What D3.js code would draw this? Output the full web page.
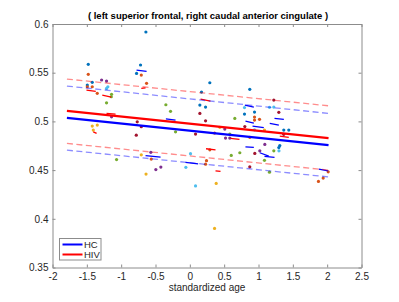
<!DOCTYPE html>
<html>
  <head>
    <meta charset="utf-8">
    <title>left superior frontal, right caudal anterior cingulate</title>
    <style>
      body { margin: 0; background: #fff; }
      text { font-family: "Liberation Sans", Arial, sans-serif; }
    </style>
  </head>
  <body>
    <script src="https://cdn.jsdelivr.net/npm/d3@7"></script>
    <script type="text/javascript">
      // subject points: age, value, colour index (MATLAB colour order)
      var pointAge = [
        -1.479, -1.479, -1.493, -1.493, -1.421, -1.421, -1.348, -1.285, -1.213, -1.194,
        -1.213, -1.140, -1.144, -1.213, -1.140, -1.421, -1.348, -1.406, -0.640, -0.718,
        -0.776, -0.707, -0.630, -0.766, -0.707, -0.780, -0.349, -0.281, -0.208, 0.146,
        0.146, 0.010, -0.568, -0.707, -1.067, 0.291, 0.873, 0.170, 0.229, 1.223,
        1.296, 1.160, 1.223, 0.796, 0.796, 0.942, 0.942, 0.942, 1.015, 0.229,
        0.655, 0.801, 0.509, 0.942, 1.087, 0.437, 0.360, 0.520, 0.582, 0.582,
        0.873, 1.368, 1.368, 1.441, 1.092, 1.019, 1.310, 1.296, 1.298, 1.223,
        0.946, 0.728, 0.603, 1.087, 1.160, 0.873, 2.015, 1.942, 1.873, 0.243,
        0.229, 0.384, 0.360, 0.291, 0.083, -0.562, -0.638, -0.495, -0.422, -0.058,
        0.083
      ];
      var pointValue = [
        0.5586, 0.5483, 0.5373, 0.5356, 0.5401, 0.5356, 0.5288, 0.5425, 0.5414, 0.5356,
        0.5339, 0.5278, 0.5253, 0.5191, 0.5047, 0.4952, 0.4962, 0.4911, 0.5918, 0.5579,
        0.5493, 0.5476, 0.5391, 0.4996, 0.4945, 0.4859, 0.5171, 0.5103, 0.4893, 0.5168,
        0.5082, 0.4669, 0.4682, 0.4657, 0.4608, 0.5397, 0.5329, 0.5301, 0.5147, 0.5219,
        0.5093, 0.5144, 0.5147, 0.5142, 0.5075, 0.5096, 0.5044, 0.5014, 0.5021, 0.5006,
        0.5031, 0.4947, 0.4921, 0.4914, 0.4911, 0.4939, 0.4880, 0.4829, 0.4829, 0.4870,
        0.4836, 0.4867, 0.4911, 0.4911, 0.4764, 0.4698, 0.4752, 0.4731, 0.4698, 0.4698,
        0.4671, 0.4678, 0.4651, 0.4600, 0.4479, 0.4534, 0.4482, 0.4418, 0.4384, 0.4597,
        0.4561, 0.4363, 0.3901, 0.4708, 0.4870, 0.4613, 0.4459, 0.4505, 0.4531, 0.4528,
        0.4338
      ];
      var pointColor = [
        0, 1, 0, 1, 0, 1, 1, 3, 3, 5,
        5, 4, 4, 4, 3, 2, 2, 2, 0, 0,
        0, 1, 1, 6, 6, 6, 4, 4, 4, 0,
        6, 5, 3, 2, 4, 0, 0, 0, 0, 6,
        6, 5, 5, 5, 0, 0, 1, 1, 1, 6,
        4, 6, 3, 5, 2, 2, 1, 3, 3, 4,
        1, 6, 0, 0, 3, 3, 0, 0, 5, 4,
        6, 4, 4, 4, 4, 6, 1, 1, 1, 1,
        1, 2, 2, 1, 6, 1, 2, 3, 3, 5,
        5
      ];
      var colorOrder = ["#0072BD", "#D95319", "#EDB120", "#7E2F8E", "#77AC30", "#4DBEEE", "#A2142F"];

      // per-subject short trend lines: [x1, y1, x2, y2]
      var hcSegments = [
        [-0.776, 0.5527, -0.630, 0.5514],
        [-0.349, 0.5027, -0.208, 0.5014],
        [-0.645, 0.4649, -0.426, 0.4633],
        [0.801, 0.5168, 0.932, 0.5147],
        [0.810, 0.5003, 0.932, 0.4983],
        [0.913, 0.4952, 1.077, 0.4937],
        [1.164, 0.4980, 1.296, 0.4962],
        [1.233, 0.5031, 1.369, 0.5021],
        [0.810, 0.4739, 0.932, 0.4733],
        [1.019, 0.4678, 1.150, 0.4644],
        [1.087, 0.4641, 1.233, 0.4631],
        [-0.063, 0.4579, 0.121, 0.4564],
        [1.878, 0.4510, 2.015, 0.4493]
      ];
      var hivSegments = [
        [-1.505, 0.5322, -1.370, 0.5308],
        [-1.275, 0.5270, -1.144, 0.5250],
        [-0.707, 0.5339, -0.645, 0.5345],
        [-1.213, 0.5082, -1.082, 0.5075],
        [-1.406, 0.4893, -1.358, 0.4877],
        [0.156, 0.5229, 0.301, 0.5209],
        [0.592, 0.4826, 0.723, 0.4815],
        [1.310, 0.4849, 1.441, 0.4836],
        [0.236, 0.4719, 0.374, 0.4708],
        [0.374, 0.4493, 0.447, 0.4486]
      ];

      // group fits: age endpoints, fit and confidence band values
      var fitAge = [-1.79, 2.02];
      var hcFit = [0.5037, 0.4757];
      var hcUpper = [0.5363, 0.5082];
      var hcLower = [0.4705, 0.4430];
      var hivFit = [0.5109, 0.4829];
      var hivUpper = [0.5435, 0.5160];
      var hivLower = [0.4774, 0.4500];

      var xTicks = [-2, -1.5, -1, -0.5, 0, 0.5, 1, 1.5, 2, 2.5];
      var yTicks = [0.35, 0.4, 0.45, 0.5, 0.55, 0.6];
      var groups = ["HC", "HIV"];

      var width = 399, height = 302;
      var plotL = 52.5, plotR = 361.5, plotT = 24, plotB = 267.5;

      var svg = d3.select("body").append("svg")
                  .attr("width", width)
                  .attr("height", height);

      var x = d3.scaleLinear().domain([-2, 2.5]).range([plotL, plotR]);
      var y = d3.scaleLinear().domain([0.35, 0.6]).range([plotB, plotT]);

      var axisColor = "#262626";
      function fmt(d) { return String(+d.toFixed(2)); }

      function styleAxis(g) {
        g.select(".domain").attr("stroke", "#8c8c8c");
        g.selectAll(".tick line").attr("stroke", "#8c8c8c");
        g.selectAll("text").attr("fill", axisColor).attr("font-size", 10)
         .style("font-family", "'Liberation Sans', Arial, sans-serif");
      }

      svg.append("g").attr("transform", "translate(0," + plotB + ")")
         .call(d3.axisBottom(x).tickValues(xTicks).tickFormat(fmt)
               .tickSizeInner(-3).tickSizeOuter(0).tickPadding(5))
         .call(styleAxis);
      svg.append("g").attr("transform", "translate(0," + plotT + ")")
         .call(d3.axisTop(x).tickValues(xTicks).tickFormat("")
               .tickSizeInner(-3).tickSizeOuter(0))
         .call(styleAxis);
      svg.append("g").attr("transform", "translate(" + plotL + ",0)")
         .call(d3.axisLeft(y).tickValues(yTicks).tickFormat(fmt)
               .tickSizeInner(-3).tickSizeOuter(0).tickPadding(4))
         .call(styleAxis);
      svg.append("g").attr("transform", "translate(" + plotR + ",0)")
         .call(d3.axisRight(y).tickValues(yTicks).tickFormat("")
               .tickSizeInner(-3).tickSizeOuter(0))
         .call(styleAxis);

      // points
      svg.append("g").selectAll("circle")
         .data(pointAge)
         .enter().append("circle")
         .attr("cx", function(d) { return x(d); })
         .attr("cy", function(d, i) { return y(pointValue[i]); })
         .attr("r", 1.6)
         .attr("fill", function(d, i) { return colorOrder[pointColor[i]]; });

      // subject segments
      function drawSegments(data, color) {
        svg.append("g").selectAll("line")
           .data(data)
           .enter().append("line")
           .attr("x1", function(d) { return x(d[0]); })
           .attr("y1", function(d) { return y(d[1]); })
           .attr("x2", function(d) { return x(d[2]); })
           .attr("y2", function(d) { return y(d[3]); })
           .attr("stroke", color)
           .attr("stroke-width", 1.3);
      }
      drawSegments(hcSegments, "#0000ff");
      drawSegments(hivSegments, "#ff0000");

      // fit lines
      var line = d3.line()
                   .x(function(d, i) { return x(fitAge[i]); })
                   .y(function(d) { return y(d); });

      function drawFit(vals, color, dashed) {
        var p = svg.append("path")
                   .attr("d", line(vals))
                   .attr("fill", "none")
                   .attr("stroke", color);
        if (dashed) {
          p.attr("stroke-width", 1.3)
           .attr("stroke-opacity", 0.45)
           .attr("stroke-dasharray", "6,3.5");
        } else {
          p.attr("stroke-width", 2.2);
        }
      }
      drawFit(hcUpper, "#0000ff", true);
      drawFit(hcLower, "#0000ff", true);
      drawFit(hivUpper, "#ff0000", true);
      drawFit(hivLower, "#ff0000", true);
      drawFit(hcFit, "#0000ff", false);
      drawFit(hivFit, "#ff0000", false);

      // title and label
      svg.append("text")
         .attr("x", (plotL + plotR) / 2 + 1)
         .attr("y", 19)
         .attr("text-anchor", "middle")
         .attr("font-size", 9.5)
         .attr("font-weight", "bold")
         .attr("fill", "#000")
         .text("( left superior frontal, right caudal anterior cingulate )");

      svg.append("text")
         .attr("x", (plotL + plotR) / 2)
         .attr("y", 291)
         .attr("text-anchor", "middle")
         .attr("font-size", 10)
         .attr("fill", axisColor)
         .text("standardized age");

      // legend
      var legend = svg.append("g").attr("transform", "translate(59.5,238.5)");
      legend.append("rect")
            .attr("width", 41.5).attr("height", 21.5)
            .attr("fill", "#fff").attr("stroke", "#8c8c8c").attr("stroke-width", 1);
      var legendColors = ["#0000ff", "#ff0000"];
      groups.forEach(function(g, i) {
        var ly = 6 + i * 10;
        legend.append("line")
              .attr("x1", 3).attr("x2", 23)
              .attr("y1", ly).attr("y2", ly)
              .attr("stroke", legendColors[i]).attr("stroke-width", 2);
        legend.append("text")
              .attr("x", 24.5).attr("y", ly + 3.5)
              .attr("font-size", 9.5)
              .attr("fill", axisColor)
              .text(g);
      });
    </script>
  </body>
</html>
